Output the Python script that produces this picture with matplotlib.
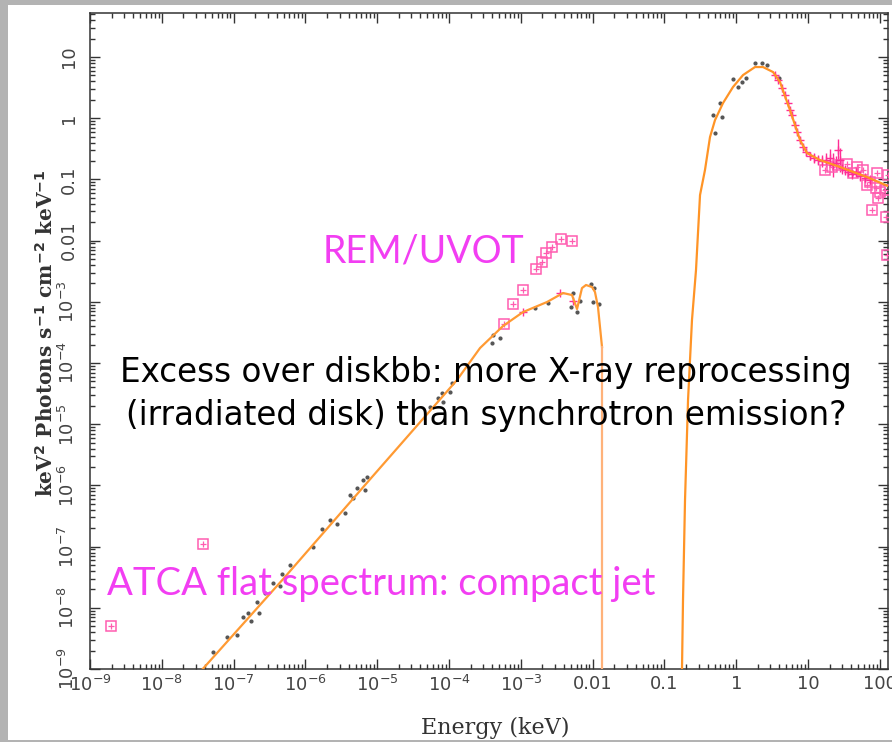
import numpy as np
import matplotlib
matplotlib.use("Agg")
import matplotlib.pyplot as plt
from matplotlib.patches import Rectangle
from matplotlib.ticker import LogLocator, FuncFormatter, NullFormatter

# broad-band spectrum, radio to hard X-rays (log10 keV, log10 keV^2 ph/s/cm^2/keV)
model_logE = [-7.43, -6.31, -5.10, -3.889, -3.568, -3.248, -2.969, -2.635, -2.412,
              -2.287, -2.217, -2.148, -2.092, -2.008, -1.967, -1.925, -1.897, -1.869]
model_logF = [-9.0, -7.53, -5.90, -4.278, -3.755, -3.395, -3.167, -3.003, -2.856,
              -2.889, -3.118, -2.775, -2.725, -2.758, -2.840, -3.085, -3.412, -3.739]
edge_logE = [-1.869, -1.869]
edge_logF = [-3.739, -12.0]

xray_logE = [-0.755, -0.755, -0.741, -0.713, -0.671, -0.616, -0.560, -0.504, -0.435,
             -0.365, -0.295, -0.184, -0.045, 0.095, 0.262, 0.373, 0.513, 0.610, 0.749,
             0.889, 0.986, 1.167, 1.446, 1.822, 2.114]
xray_logF = [-12.0, -9.0, -7.873, -6.239, -4.605, -3.297, -2.480, -1.255, -0.846,
             -0.307, -0.029, 0.248, 0.510, 0.706, 0.837, 0.837, 0.755, 0.592, 0.134,
             -0.356, -0.569, -0.683, -0.797, -0.961, -1.108]

# small grey points around the model
dot_logE = [-7.287, -7.092, -6.953, -6.869, -6.799, -6.758, -6.674, -6.646, -6.563, -6.451,
            -6.354, -6.326, -6.214, -5.894, -5.769, -5.657, -5.560, -5.448, -5.379, -5.337,
            -5.281, -5.170, -5.198, -5.142, -4.265, -4.153, -4.084, -4.097, -3.986, -3.958,
            -3.387, -3.290, -3.401, -2.802, -2.621, -2.273, -2.301, -2.217, -2.175, -2.022,
            -1.981, -1.994, -1.911, -0.323, -0.295, -0.198, -0.226, -0.045, 0.025, 0.081,
            0.136, 0.262, 0.359, 0.429, 0.596]
dot_logF = [-8.722, -8.477, -8.444, -8.150, -8.085, -8.216, -7.905, -8.085, -7.758, -7.595,
            -7.644, -7.448, -7.301, -7.007, -6.712, -6.565, -6.631, -6.451, -6.157, -6.206,
            -6.042, -6.075, -5.912, -5.863, -4.719, -4.572, -4.637, -4.490, -4.474, -4.327,
            -3.542, -3.592, -3.673, -3.101, -3.020, -2.856, -3.085, -3.167, -2.987, -2.709,
            -2.775, -3.003, -3.036, 0.052, -0.242, 0.020, 0.248, 0.641, 0.510, 0.592,
            0.657, 0.902, 0.902, 0.869, 0.657]

# ATCA, REM/UVOT and binned hard X-ray points (open squares)
sq_logE = [-8.708, -7.426, -3.234, -3.109, -2.969, -2.788, -2.705, -2.649, -2.565, -2.440,
           -2.287, 1.237, 1.334, 1.418, 1.543, 1.627, 1.682, 1.766, 1.822, 1.864, 1.961,
           1.947, 2.003, 1.975, 2.072, 2.114, 1.891, 2.086, 2.100]
sq_logF = [-8.297, -6.958, -3.363, -3.036, -2.807, -2.464, -2.350, -2.203, -2.105, -1.974,
           -2.007, -0.846, -0.797, -0.765, -0.748, -0.895, -0.797, -0.846, -1.092, -1.042,
           -0.895, -1.141, -1.206, -1.304, -1.173, -0.928, -1.500, -1.614, -2.235]

# unbinned X-ray points (crosses)
cr_logE = [0.540, 0.582, 0.638, 0.680, 0.721, 0.749, 0.777, 0.819, 0.847, 0.889, 0.930,
           0.972, 1.028, 1.084, 1.139, 1.195, 1.251, 1.306, 1.348, 1.390, 1.418, 1.446,
           1.474, 1.515, 1.557, 1.613, 1.669, 1.724, 1.794, 1.864, -2.969, -2.454, -2.273]
cr_logF = [0.706, 0.624, 0.493, 0.379, 0.248, 0.134, 0.052, -0.111, -0.225, -0.356, -0.471,
           -0.552, -0.618, -0.650, -0.683, -0.699, -0.683, -0.650, -0.765, -0.732, -0.520,
           -0.683, -0.814, -0.846, -0.879, -0.912, -0.879, -0.944, -0.977, -1.010,
           -3.167, -2.856, -2.987]
cr_yerr = [0.03, 0.03, 0.03, 0.04, 0.04, 0.04, 0.04, 0.05, 0.05, 0.05, 0.05,
           0.06, 0.06, 0.08, 0.08, 0.10, 0.12, 0.15, 0.20, 0.12, 0.18,
           0.20, 0.10, 0.08, 0.08, 0.08, 0.08, 0.08, 0.08, 0.08, 0.02, 0.02, 0.02]

W, H = 892, 742
fig = plt.figure(figsize=(W / 100, H / 100), dpi=100, facecolor="#b3b3b3")
fig.patches.append(Rectangle((8 / W, 2 / H), 1.0, 1 - 7 / H, transform=fig.transFigure,
                             facecolor="white", edgecolor="none", zorder=-10))

ax = fig.add_axes([90 / W, 1 - 669 / H, (888 - 90) / W, (669 - 13) / H])
ax.set_xscale("log")
ax.set_yscale("log")

p = lambda a: 10.0 ** np.asarray(a)

ax.plot(p(dot_logE), p(dot_logF), ls="none", marker="o", ms=2.0, color="#555555", zorder=2)
ax.errorbar(p(cr_logE), p(cr_logF), yerr=[p(cr_logF) - p(np.subtract(cr_logF, cr_yerr)),
            p(np.add(cr_logF, cr_yerr)) - p(cr_logF)],
            ls="none", marker="+", ms=6, mew=1.0, color="#ff2d95", elinewidth=1.0, zorder=3)
ax.plot(p(sq_logE), p(sq_logF), ls="none", marker="s", ms=6.5, mfc="none", mec="#ff5cb0",
        mew=1.1, zorder=3)
ax.plot(p(sq_logE), p(sq_logF), ls="none", marker="+", ms=4.5, mew=0.9, color="#ff5cb0", zorder=3)

ax.plot(p(model_logE), p(model_logF), color="#ff9a33", lw=1.6, zorder=4)
ax.plot(p(edge_logE), p(edge_logF), color="#ffb27a", lw=1.6, zorder=4)
ax.plot(p(xray_logE), p(xray_logF), color="#ff9426", lw=1.6, zorder=4)

ax.set_xlim(1e-9, 10 ** 2.114)
ax.set_ylim(1e-9, 10 ** 1.72)


def fmt(v, pos):
    e = int(round(np.log10(v)))
    if e <= -3:
        return r"$10^{%d}$" % e
    return "%g" % v


for axis in (ax.xaxis, ax.yaxis):
    axis.set_major_locator(LogLocator(base=10, numticks=100))
    axis.set_minor_locator(LogLocator(base=10, subs=np.arange(2, 10), numticks=100))
    axis.set_major_formatter(FuncFormatter(fmt))
    axis.set_minor_formatter(NullFormatter())

ax.tick_params(which="both", direction="in", top=True, right=True, color="#333333", width=1.0)
ax.tick_params(which="major", length=7)
ax.tick_params(which="minor", length=3.5)
ax.tick_params(axis="x", labelsize=13, labelcolor="#444444", pad=4)
ax.tick_params(axis="y", labelsize=13, labelcolor="#444444", pad=9, labelrotation=90)
for lab in ax.get_yticklabels():
    lab.set_va("center")
for s in ax.spines.values():
    s.set_color("#333333")
    s.set_linewidth(1.1)

ax.set_xlabel("Energy (keV)", family="DejaVu Serif", fontsize=16, color="#333333")
ax.set_ylabel(r"keV$^{\mathbf{2}}$ Photons s$^{\mathbf{-1}}$ cm$^{\mathbf{-2}}$ keV$^{\mathbf{-1}}$",
              family="DejaVu Serif", fontweight="bold", fontsize=14.5, color="#333333")
ax.xaxis.set_label_coords(0.5075, -0.073)
ax.yaxis.set_label_coords(-0.041, 0.512)

pink = "#f23ef2"
fig.text(323 / W, 1 - 262 / H, "REM/UVOT", family="Lato", fontsize=27, color=pink, va="baseline")
fig.text(107 / W, 1 - 595 / H, "ATCA flat spectrum: compact jet", family="Lato", fontsize=27.5,
         color=pink, va="baseline", zorder=5)
fig.text(486 / W, 1 - 382 / H, "Excess over diskbb: more X-ray reprocessing", family="DejaVu Sans",
         fontsize=23.5, color="black", ha="center", va="baseline", zorder=5)
fig.text(486 / W, 1 - 425 / H, "(irradiated disk) than synchrotron emission?", family="DejaVu Sans",
         fontsize=23.5, color="black", ha="center", va="baseline", zorder=5)

fig.savefig("out.png", dpi=100, facecolor=fig.get_facecolor())
